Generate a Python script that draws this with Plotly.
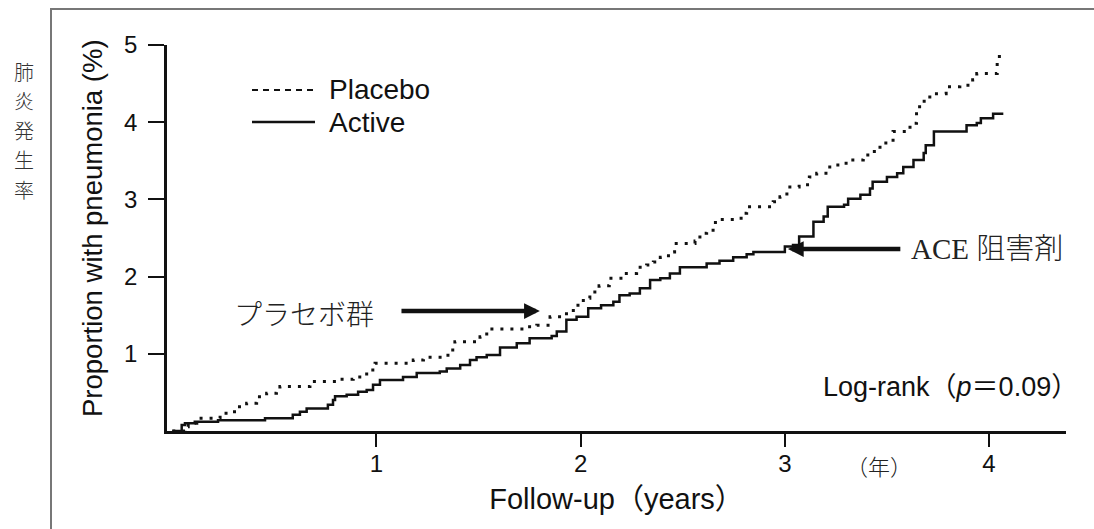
import plotly.graph_objects as go

# ---- data ----
placebo_years = [0, 0.062, 0.078, 0.12, 0.20, 0.234, 0.28, 0.315, 0.364, 0.413,
                 0.462, 0.51, 0.527, 0.658, 0.674, 0.772, 0.82, 0.886, 0.952, 0.993,
                 1.117, 1.18, 1.23, 1.31, 1.35, 1.384, 1.458, 1.507, 1.54, 1.67,
                 1.72, 1.785, 1.85, 1.915, 1.964, 2.013, 2.045, 2.09, 2.14, 2.21,
                 2.274, 2.323, 2.356, 2.39, 2.43, 2.46, 2.56, 2.584, 2.617, 2.66,
                 2.764, 2.796, 2.813, 2.91, 2.943, 2.976, 3.01, 3.07, 3.12, 3.156,
                 3.22, 3.30, 3.384, 3.43, 3.466, 3.53, 3.613, 3.645, 3.66, 3.71,
                 3.79, 3.857, 3.92, 3.94, 4.04, 4.04, 4.06]
placebo_pct = [0, 0.056, 0.10, 0.165, 0.165, 0.23, 0.25, 0.315, 0.36, 0.445,
               0.49, 0.53, 0.575, 0.575, 0.64, 0.64, 0.67, 0.70, 0.79, 0.877,
               0.877, 0.92, 0.955, 0.955, 1.05, 1.157, 1.157, 1.22, 1.32, 1.32,
               1.35, 1.37, 1.48, 1.52, 1.63, 1.72, 1.80, 1.88, 1.98, 2.04,
               2.12, 2.15, 2.19, 2.25, 2.32, 2.43, 2.46, 2.56, 2.60, 2.74,
               2.755, 2.82, 2.905, 2.905, 2.97, 3.035, 3.16, 3.19, 3.29, 3.34,
               3.445, 3.51, 3.575, 3.62, 3.73, 3.88, 3.985, 4.11, 4.27, 4.37,
               4.46, 4.48, 4.55, 4.63, 4.65, 4.85, 4.91]

active_years = [0, 0.046, 0.062, 0.11, 0.224, 0.454, 0.567, 0.59, 0.625, 0.658,
                0.747, 0.762, 0.787, 0.797, 0.854, 0.91, 0.952, 0.983, 1.017, 1.13,
                1.197, 1.31, 1.344, 1.41, 1.458, 1.49, 1.54, 1.605, 1.687, 1.75,
                1.858, 1.883, 1.93, 1.98, 2.037, 2.10, 2.16, 2.19, 2.24, 2.29,
                2.34, 2.39, 2.437, 2.486, 2.568, 2.617, 2.68, 2.747, 2.813, 2.846,
                2.96, 3.00, 3.04, 3.07, 3.14, 3.19, 3.21, 3.29, 3.31, 3.37,
                3.417, 3.43, 3.50, 3.55, 3.58, 3.63, 3.68, 3.69, 3.73, 3.86,
                3.89, 3.94, 3.96, 4.02, 4.07]
active_pct = [0, 0.078, 0.10, 0.12, 0.14, 0.165, 0.165, 0.21, 0.25, 0.29,
              0.29, 0.34, 0.40, 0.45, 0.47, 0.51, 0.53, 0.60, 0.66, 0.70,
              0.75, 0.77, 0.81, 0.855, 0.92, 0.955, 0.985, 1.08, 1.136, 1.20,
              1.23, 1.29, 1.44, 1.48, 1.59, 1.63, 1.675, 1.76, 1.78, 1.85,
              1.955, 1.98, 2.04, 2.12, 2.12, 2.17, 2.205, 2.25, 2.29, 2.32,
              2.32, 2.39, 2.41, 2.52, 2.71, 2.78, 2.905, 2.93, 3.01, 3.06,
              3.14, 3.23, 3.29, 3.34, 3.42, 3.51, 3.60, 3.70, 3.88, 3.88,
              3.96, 3.99, 4.05, 4.11, 4.11]

x_ticks = [1, 2, 3, 4]
y_ticks = [1, 2, 3, 4, 5]
series_names = ["Placebo", "Active"]
side_label_chars = ["肺", "炎", "発", "生", "率"]

# ---- layout helpers ----
W, H = 1094, 529
L, R, T, B = 167, 28, 45, 98
PW, PH = W - L - R, H - T - B


def pxx(x):
    return (x - L) / PW


def pxy(y):
    return (H - B - y) / PH


SANS = "Liberation Sans, Arial, Noto Sans CJK JP"
SERIF = "Liberation Serif, Noto Sans CJK JP"
INK = "#111111"

fig = go.Figure()
fig.add_trace(go.Scatter(
    x=placebo_years, y=placebo_pct, mode="lines", name=series_names[0],
    line=dict(shape="hv", color=INK, width=3, dash="3px,7px"),
))
fig.add_trace(go.Scatter(
    x=active_years, y=active_pct, mode="lines", name=series_names[1],
    line=dict(shape="hv", color=INK, width=2.5),
))

axis_common = dict(
    showline=True, linewidth=2.5, linecolor=INK,
    ticks="outside", tickwidth=2, tickcolor=INK,
    showgrid=False, zeroline=False,
    tickfont=dict(family=SANS, size=24, color=INK),
)

fig.update_layout(
    width=W, height=H,
    margin=dict(l=L, r=R, t=T, b=B, pad=0),
    paper_bgcolor="white", plot_bgcolor="white",
    showlegend=False,
    xaxis=dict(range=[-0.026, 4.377], tickvals=x_ticks, ticklen=13,
               ticklabelstandoff=-4,
               title=dict(text="Follow-up（years）", standoff=14,
                          font=dict(family=SANS, size=29, color=INK)),
               **axis_common),
    yaxis=dict(range=[0, 5], tickvals=y_ticks, ticklen=16,
               ticklabelstandoff=6, **axis_common),
)

# y-axis title (placed to match the reference's vertical position)
fig.add_annotation(xref="paper", yref="paper", x=pxx(92), y=pxy(228),
                   text="Proportion with pneumonia (%)", textangle=-90,
                   showarrow=False, xanchor="center", yanchor="middle",
                   font=dict(family=SANS, size=27.5, color=INK))

# outer frame of the figure panel
fig.add_shape(type="rect", xref="paper", yref="paper",
              x0=pxx(51), x1=pxx(1110), y0=pxy(545), y1=pxy(9),
              line=dict(color="#777777", width=2), fillcolor="rgba(0,0,0,0)",
              layer="below")

# manual legend
fig.add_shape(type="line", xref="paper", yref="paper",
              x0=pxx(252), x1=pxx(315), y0=pxy(90), y1=pxy(90),
              line=dict(color=INK, width=2, dash="6px,5px"))
fig.add_shape(type="line", xref="paper", yref="paper",
              x0=pxx(252), x1=pxx(315), y0=pxy(122), y1=pxy(122),
              line=dict(color=INK, width=2.5))
for name, yy in zip(series_names, [90, 122]):
    fig.add_annotation(xref="paper", yref="paper", x=pxx(327), y=pxy(yy),
                       text=name, showarrow=False, xanchor="left", yanchor="middle",
                       font=dict(family=SANS, size=28, color=INK))

# arrows
fig.add_annotation(x=1.80, y=1.554, ax=1.115, ay=1.554, axref="x", ayref="y",
                   text="", showarrow=True, arrowhead=2, arrowwidth=4.5,
                   arrowsize=0.7, arrowcolor=INK)
fig.add_annotation(x=3.015, y=2.357, ax=3.573, ay=2.357, axref="x", ayref="y",
                   text="", showarrow=True, arrowhead=2, arrowwidth=4.5,
                   arrowsize=0.7, arrowcolor=INK)

# text labels
fig.add_annotation(x=0.646, y=1.50, text="プラセボ群", showarrow=False,
                   xanchor="center", yanchor="middle",
                   font=dict(family=SERIF, size=28, color="#222222", weight=300))
fig.add_annotation(x=3.99, y=2.36, text="ACE 阻害剤", showarrow=False,
                   xanchor="center", yanchor="middle",
                   font=dict(family=SERIF, size=29, color="#222222", weight=300))
fig.add_annotation(xref="paper", yref="paper", x=pxx(1080), y=pxy(387),
                   text="Log-rank（<i>p</i>＝0.09）", showarrow=False,
                   xanchor="right", yanchor="middle",
                   font=dict(family=SANS, size=27, color=INK))
fig.add_annotation(xref="paper", yref="paper", x=pxx(879), y=pxy(468),
                   text="（年）", showarrow=False,
                   xanchor="center", yanchor="middle",
                   font=dict(family=SERIF, size=22, color="#222222", weight=300))

# vertical Japanese label, one character per annotation
for i, ch in enumerate(side_label_chars):
    fig.add_annotation(xref="paper", yref="paper", x=pxx(24), y=pxy(71 + 29.5 * i),
                       text=ch, showarrow=False, xanchor="center", yanchor="middle",
                       font=dict(family="Noto Sans CJK JP", size=20, color="#333333",
                                 weight=300))

fig.write_html("out.html", config={"displayModeBar": False},
               post_script="document.body.style.margin='0px';")
